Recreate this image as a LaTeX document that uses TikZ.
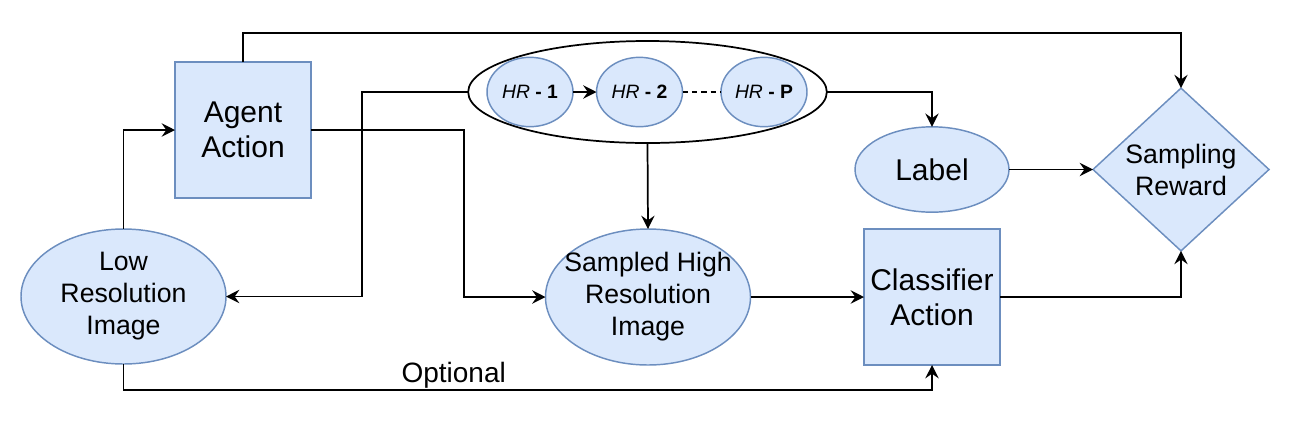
\documentclass[tikz,border=0pt]{standalone}
\usepackage{fontspec}
\setmainfont{Liberation Sans}
\usetikzlibrary{shapes.geometric,arrows.meta}

\definecolor{boxfill}{RGB}{218,232,252}
\definecolor{boxline}{RGB}{108,142,191}

\tikzset{every picture/.style={line width=1.3pt}}
\tikzset{
  bluebox/.style={draw=boxline,fill=boxfill,line width=1.1pt,rectangle,inner sep=0pt,outer sep=0pt,
    minimum width=102pt,minimum height=102pt,align=center,font=\fontsize{22.5}{26}\selectfont},
  blueoval/.style={draw=boxline,fill=boxfill,line width=1.1pt,ellipse,inner sep=0pt,outer sep=0pt,
    align=center,font=\fontsize{20}{24}\selectfont},
  hroval/.style={blueoval,minimum width=64.5pt,minimum height=52pt,font=\fontsize{14.5}{17}\selectfont},
  flow/.style={-{Stealth[length=10pt,width=10pt,inset=3.5pt]}}
}

\begin{document}
\begin{tikzpicture}[x=0.75pt,y=0.75pt,yscale=-1,xscale=1]
\useasboundingbox (0,0) rectangle (1292,426);
%Shape: Rectangle [id:agent]
\node [bluebox] (agent) at (243,130) {Agent\\Action};
%Shape: Ellipse [id:lowres]
\node [blueoval,inner xsep=-12pt,minimum width=153.75pt,minimum height=101.25pt] (lowres) at (123.5,296.5) {Low\\Resolution\\Image};
%Shape: Ellipse [id:hrset]
\node [draw=black,fill=white,ellipse,inner sep=0pt,outer sep=0pt,minimum width=269pt,minimum height=76.5pt] (hrset) at (647.5,92) {};
%Shape: Ellipse [id:hr1]
\node [hroval] (hr1) at (530,92) {{\itshape HR} \textbf{- 1}};
%Shape: Ellipse [id:hr2]
\node [hroval] (hr2) at (639.5,92) {{\itshape HR} \textbf{- 2}};
%Shape: Ellipse [id:hrp]
\node [hroval] (hrp) at (764,92) {{\itshape HR} \textbf{- P}};
%Shape: Ellipse [id:sampled]
\node [blueoval,inner xsep=-12pt,minimum width=153.75pt,minimum height=102pt] (sampled) at (648,297) {Sampled High\\Resolution\\Image};
%Shape: Rectangle [id:classifier]
\node [bluebox] (classifier) at (932,297) {Classifier\\Action};
%Shape: Ellipse [id:label]
\node [blueoval,font=\fontsize{22.5}{26}\selectfont,minimum width=115.5pt,minimum height=64pt] (label) at (932,169.5) {Label};
%Shape: Diamond [id:reward]
\node [draw=boxline,fill=boxfill,line width=1.1pt,diamond,inner sep=0pt,outer sep=0pt,minimum width=132pt,minimum height=120pt,
  align=center,font=\fontsize{20}{24}\selectfont] (reward) at (1181,169.5) {Sampling\\Reward};
% Text Node
\node [anchor=base,inner sep=0pt,font=\fontsize{21}{24}\selectfont] (optlabel) at (453.7,382.5) {Optional};

%Connectors
\draw [flow] (lowres.north) |- (agent.west);
\draw [flow] (agent.north) -- ++(0,-29) -| (reward.north);
\draw [flow] (agent.east) -- ++(153,0) |- (sampled.west);
\draw [flow] (hrset.west) -- ++(-106,0) |- (lowres.east);
\draw [flow] (hr1) -- (hr2);
\draw [dash pattern=on 4pt off 3pt] (hr2) -- (hrp);
\draw [flow] (hrset.south) -- (sampled.north);
\draw [flow] (hrset.east) -| (label.north);
\draw [flow] (label.east) -- (reward.west);
\draw [flow] (sampled.east) -- (classifier.west);
\draw [flow] (classifier.east) -| (reward.south);
\draw [flow] (lowres.south) -- ++(0,26) -| (classifier.south);
\end{tikzpicture}
\end{document}
